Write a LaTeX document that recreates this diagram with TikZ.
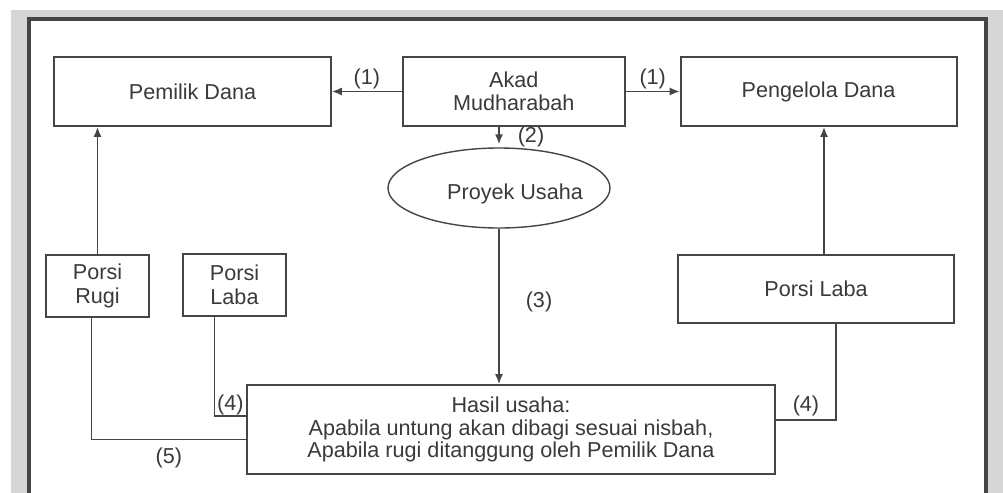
\documentclass[tikz,border=0pt]{standalone}
\usepackage{fontspec}
\setmainfont{Liberation Sans}
\usetikzlibrary{positioning, arrows.meta, shapes.geometric}
\definecolor{linegray}{HTML}{454545}
\definecolor{textgray}{HTML}{3A3A3A}
\definecolor{bggray}{HTML}{D6D6D6}

\begin{document}
\begin{tikzpicture}[
  x=0.5pt, y=-0.5pt,
  font=\fontsize{10.8}{11.4}\selectfont,
  every node/.style={text=textgray},
  box/.style={draw=linegray, line width=0.9pt, minimum height=34.5pt,
              align=center, inner sep=2pt},
  smallbox/.style={box, minimum width=51.5pt, minimum height=31pt,
                   font=\fontsize{10.8}{12}\selectfont},
  conn/.style={draw=linegray, line width=0.8pt},
  arrow/.style={conn, -{Latex[length=5pt,width=4pt]}},
  tag/.style={inner sep=0pt}
]
\useasboundingbox (0,0) rectangle (1003,493);
% frame
\fill[bggray] (11,10) rectangle (1003,493);
\fill[white] (29,18.5) rectangle (986,493);
\draw[linegray, line width=2pt] (29,493) -- (29,18.5) -- (986,18.5) -- (986,493);

\node[box, minimum width=138.5pt] (pemilik) at (192.5,91.5) {Pemilik Dana};
\node[box, minimum width=111pt, right=35pt of pemilik] (akad) {Akad\\Mudharabah};
\node[box, minimum width=138pt, right=27pt of akad] (pengelola) {Pengelola Dana};
\node[draw=linegray, line width=0.7pt, ellipse, minimum width=111pt, minimum height=40pt,
      label={[tag, xshift=8pt, yshift=-3pt]center:Proyek Usaha}] (proyek) at (499,188) {};
\node[smallbox] (rugi) at (97.5,286) {Porsi\\Rugi};
\node[smallbox] (labakiri) at (234.5,285) {Porsi\\Laba};
\node[box, minimum width=138pt, minimum height=34pt] (labakanan) at (816,289) {Porsi Laba};
\node[box, minimum width=264pt, minimum height=44.5pt] (hasil) at (511,429.5)
  {Hasil usaha:\\Apabila untung akan dibagi sesuai nisbah,\\Apabila rugi ditanggung oleh Pemilik Dana};

\draw[arrow] (akad.west) -- (pemilik.east) node[tag, midway, above=1pt] {(1)};
\draw[arrow] (akad.east) -- (pengelola.west) node[tag, midway, above=1pt] {(1)};
\draw[arrow, shorten >=1.5pt] (akad.south -| proyek.north) -- (proyek.north)
  node[tag, midway, right=9pt] {(2)};
\draw[arrow] (proyek.south) -- (proyek.south |- hasil.north)
  node[tag, pos=0.47, right=13pt] {(3)};
\draw[arrow] (rugi.north) -- (rugi.north |- pemilik.south);
\draw[arrow] ([xshift=4pt]labakanan.north) -- ([xshift=4pt]labakanan.north |- pengelola.south);
\draw[conn] ([xshift=-3pt]rugi.south) |- ([yshift=-5pt]hasil.west)
  node[tag, pos=0.75, below=4pt] {(5)};
\draw[conn] ([xshift=-10pt]labakiri.south) |- ([yshift=6.75pt]hasil.west)
  node[tag, pos=0.75, above=0pt] {(4)};
\draw[conn] ([xshift=10pt]labakanan.south) |- ([yshift=4.75pt]hasil.east)
  node[tag, pos=0.75, above=1.4pt] {(4)};
\end{tikzpicture}
\end{document}
